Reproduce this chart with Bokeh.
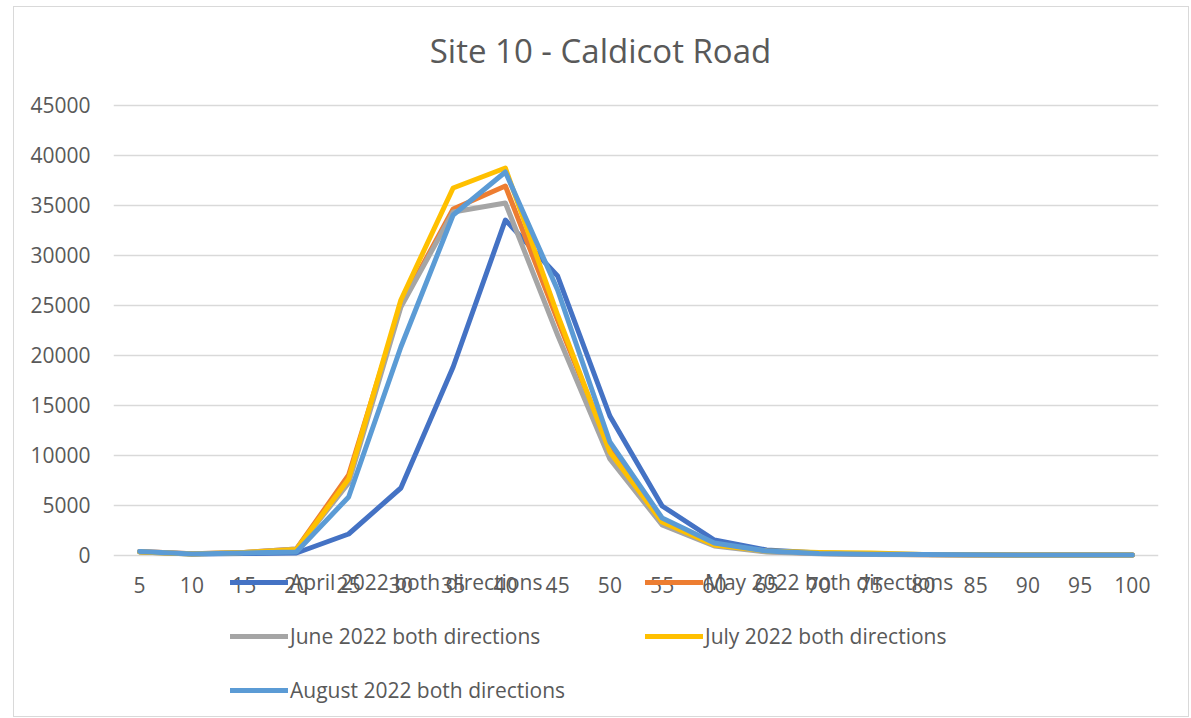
from bokeh.plotting import figure
from bokeh.models import FactorRange, Range1d, Legend, LegendItem, Label, FixedTicker, NumeralTickFormatter
from bokeh.core.properties import value
from bokeh.embed import file_html
from bokeh.resources import INLINE

speeds = ["5", "10", "15", "20", "25", "30", "35", "40", "45", "50",
          "55", "60", "65", "70", "75", "80", "85", "90", "95", "100"]
april = [300, 100, 150, 200, 2100, 6700, 18800, 33500, 27900, 13900, 4900, 1500, 500, 200, 100, 50, 20, 10, 5, 0]
may = [350, 120, 250, 600, 8000, 25000, 34600, 36900, 23500, 10500, 3500, 1100, 350, 150, 80, 30, 10, 5, 0, 0]
june = [350, 120, 250, 600, 7200, 24800, 34300, 35200, 22000, 9600, 3000, 900, 300, 120, 60, 30, 10, 5, 0, 0]
july = [300, 100, 250, 550, 7600, 25500, 36700, 38700, 24000, 10300, 3300, 1000, 400, 250, 200, 50, 20, 5, 0, 0]
august = [350, 100, 200, 300, 5800, 20800, 34000, 38300, 26500, 11300, 3700, 1200, 400, 150, 80, 40, 20, 5, 0, 0]
y_ticks = [0, 5000, 10000, 15000, 20000, 25000, 30000, 35000, 40000, 45000]

chart_title = "Site 10 - Caldicot Road"
series_names = ["April 2022 both directions", "May 2022 both directions",
                "June 2022 both directions", "July 2022 both directions",
                "August 2022 both directions"]
series_values = [april, may, june, july, august]
colors = ["#4472C4", "#ED7D31", "#A5A5A5", "#FFC000", "#5B9BD5"]

FONT = "Open Sans"
GREY = "#595959"

p = figure(x_range=FactorRange(*speeds), y_range=Range1d(-16150, 54750),
           width=1175, height=712, frame_width=1045, frame_height=709,
           min_border_left=99, min_border_right=30, min_border_top=0, min_border_bottom=0,
           x_axis_location=None,
           output_backend="svg", toolbar_location=None, margin=(6, 0, 0, 13),
           styles={"border": "1.5px solid #D9D9D9"})

p.x_range.range_padding = 0
p.outline_line_color = None
p.background_fill_color = "white"
p.border_fill_color = "white"

# chart title (screen units, relative to the plotting frame)
p.add_layout(Label(x=487, y=666.5, x_units="screen", y_units="screen", text=chart_title,
                   text_font=FONT, text_font_size="33px", text_color=GREY,
                   text_align="center", text_baseline="middle"))

renderers = []
for name, vals, c in zip(series_names, series_values, colors):
    r = p.line(x=speeds, y=vals, line_color=c, line_width=5, line_join="round", line_cap="round")
    renderers.append(r)

# category labels under the zero line
p.text(x=speeds, y=[0] * len(speeds), text=speeds, y_offset=30,
       text_font=value(FONT), text_font_size="21px", text_color=GREY,
       text_align="center", text_baseline="middle")

p.yaxis.ticker = FixedTicker(ticks=y_ticks)
p.yaxis.formatter = NumeralTickFormatter(format="0")
p.ygrid.grid_line_color = "#D9D9D9"
p.ygrid.grid_line_width = 1.5
p.xgrid.grid_line_color = None
p.yaxis.axis_line_color = None
p.yaxis.major_tick_line_color = None
p.yaxis.minor_tick_line_color = None
p.yaxis.major_label_text_font = FONT
p.yaxis.major_label_text_font_size = "21px"
p.yaxis.major_label_text_color = GREY
p.yaxis.major_label_standoff = 17

items = [LegendItem(label=n, renderers=[r]) for n, r in zip(series_names, renderers)]
legend = Legend(items=items, location=(117, 0), orientation="horizontal", ncols=2,
                glyph_width=58, glyph_height=20, label_standoff=2, label_width=353,
                label_height=52, spacing=2, padding=0, margin=0,
                border_line_color=None, background_fill_alpha=0,
                label_text_font=FONT, label_text_font_size="21px", label_text_color=GREY)
p.add_layout(legend, "center")

open("out.html", "w").write(file_html(p, INLINE))
